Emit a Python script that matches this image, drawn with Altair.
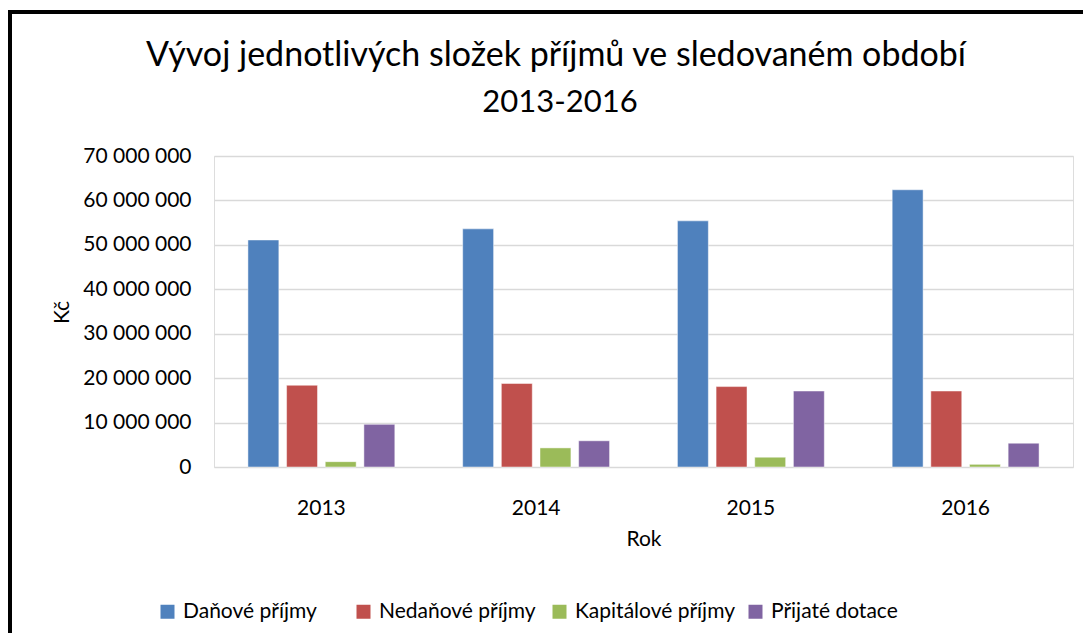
import altair as alt
import pandas as pd

years = ["2013", "2014", "2015", "2016"]
series = ["Daňové příjmy", "Nedaňové příjmy", "Kapitálové příjmy", "Přijaté dotace"]
danove = [51100000, 53600000, 55400000, 62400000]
nedanove = [18400000, 18800000, 18100000, 17100000]
kapitalove = [1200000, 4300000, 2200000, 600000]
dotace = [9600000, 5900000, 17100000, 5350000]
colors = ["#4F81BD", "#C0504D", "#9BBB59", "#8064A2"]
y_ticks = [0, 10000000, 20000000, 30000000, 40000000, 50000000, 60000000, 70000000]
title_line1 = "Vývoj jednotlivých složek příjmů ve sledovaném období"
title_line2 = "2013-2016"

rows = []
for s, vals in zip(series, [danove, nedanove, kapitalove, dotace]):
    for yr, v in zip(years, vals):
        rows.append({"Rok": yr, "Složka": s, "Hodnota": v})
df = pd.DataFrame(rows)

FONT = "Lato"
W, H = 859, 311

bars = alt.Chart(df).mark_bar(stroke="white", strokeWidth=0.8, strokeOpacity=0.6).encode(
    x=alt.X("Rok:N", title="Rok",
            scale=alt.Scale(paddingInner=0.316, paddingOuter=0.158),
            axis=alt.Axis(labelAngle=0, ticks=False, domain=False, labelPadding=30,
                          labelFontSize=21, titleFontSize=21, labelFont=FONT, titleFont=FONT,
                          labelColor="#000", titleColor="#000", titleFontWeight="normal",
                          titleY=61, titleBaseline="top")),
    xOffset=alt.XOffset("Složka:N", sort=series,
                        scale=alt.Scale(paddingInner=0.2, paddingOuter=0)),
    y=alt.Y("Hodnota:Q", title="Kč",
            scale=alt.Scale(domain=[0, 70000000], nice=False),
            axis=alt.Axis(values=y_ticks, ticks=False, domain=False, labelPadding=23,
                          labelExpr="replace(format(datum.value, ','), regexp(',', 'g'), ' ')",
                          labelFontSize=21, titleFontSize=21, labelFont=FONT, titleFont=FONT,
                          labelColor="#000", titleColor="#000", titleFontWeight="normal",
                          gridColor="#d9d9d9", gridWidth=1.5,
                          titleX=-152, titleY=156, titleAlign="center", titleBaseline="middle")),
    color=alt.Color("Složka:N", sort=series,
                    scale=alt.Scale(domain=series, range=colors),
                    legend=alt.Legend(title=None, orient="none", direction="horizontal",
                                      legendX=-57, legendY=445, symbolType="square",
                                      symbolSize=196, symbolStrokeWidth=0, symbolOpacity=1,
                                      labelFontSize=21, labelFont=FONT, labelColor="#000",
                                      gridAlign="all", columnPadding=10, labelOffset=5)),
)

tdf = pd.DataFrame({"t": [title_line1]})
tdf2 = pd.DataFrame({"t": [title_line2]})
title1 = alt.Chart(tdf).mark_text(font=FONT, fontSize=34, color="#000", align="center",
                                  baseline="alphabetic").encode(
    text="t:N", x=alt.value(342), y=alt.value(-90))
title2 = alt.Chart(tdf2).mark_text(font=FONT, fontSize=31, color="#000", align="center",
                                   baseline="alphabetic").encode(
    text="t:N", x=alt.value(346), y=alt.value(-44))

border_left = alt.Chart(tdf).mark_rule(color="black", strokeWidth=4).encode(
    x=alt.value(-204), y=alt.value(-146), y2=alt.value(480))
border_top = alt.Chart(tdf).mark_rule(color="black", strokeWidth=4).encode(
    x=alt.value(-206), x2=alt.value(880), y=alt.value(-144))

chart = alt.layer(bars, title1, title2, border_left, border_top).properties(
    width=W, height=H,
    autosize=alt.AutoSizeParams(type="none"),
    padding={"left": 206, "top": 148, "right": 10, "bottom": 166},
).configure_view(stroke=None).configure(background="white")

chart.save("out.html", embed_options={"renderer": "svg", "actions": False})
